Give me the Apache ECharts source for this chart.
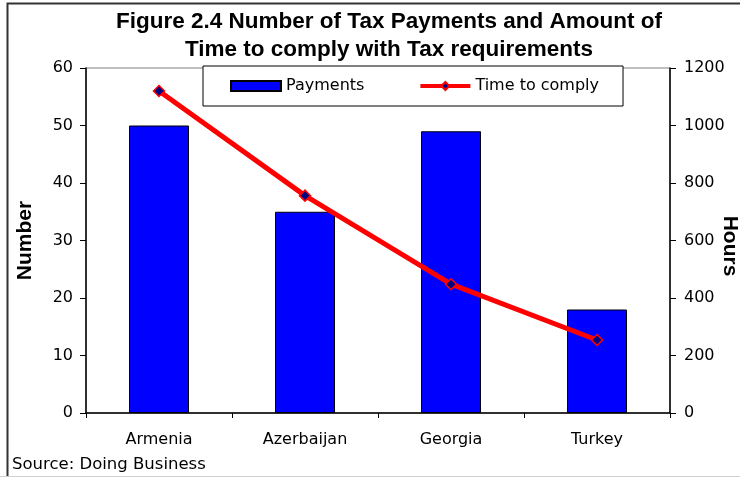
<!DOCTYPE html>
<html>
<head>
<meta charset="utf-8">
<script src="https://cdn.jsdelivr.net/npm/echarts@6/dist/echarts.min.js"></script>
<style>
  html, body { margin: 0; padding: 0; background: #fff; }
  #chart { width: 740px; height: 477px; }
</style>
</head>
<body>
<div id="chart"></div>
<script>
// Number of tax payments (left axis) and hours to comply (right axis)
const countries = ['Armenia', 'Azerbaijan', 'Georgia', 'Turkey'];
const payments = [50, 35, 49, 18];
const timeToComply = [1120, 756, 448, 254];

const leftTicks = { min: 0, max: 60, interval: 10 };
const rightTicks = { min: 0, max: 1200, interval: 200 };

const labelFont = 'DejaVu Sans';
const chart = echarts.init(document.getElementById('chart'), null, { renderer: 'canvas' });

chart.setOption({
  backgroundColor: '#fff',
  animation: false,
  title: {
    text: 'Figure 2.4 Number of Tax Payments and Amount of\nTime to comply with Tax requirements',
    left: 384,
    top: 3,
    textAlign: 'center',
    textStyle: {
      fontFamily: 'Liberation Sans',
      fontWeight: 'bold',
      fontSize: 22.5,
      lineHeight: 28,
      color: '#000'
    }
  },
  legend: {
    left: 203,
    top: 66,
    orient: 'horizontal',
    backgroundColor: '#fff',
    borderColor: '#000',
    borderWidth: 1,
    padding: [12, 24, 12, 27],
    itemGap: 54,
    itemWidth: 50,
    itemHeight: 10,
    z: 10,
    textStyle: { fontFamily: labelFont, fontSize: 16, color: '#000' },
    data: [
      { name: 'Payments', icon: 'rect' },
      { name: 'Time to comply', lineStyle: { width: 4 } }
    ]
  },
  grid: {
    left: 86,
    right: 70,
    top: 68,
    bottom: 64,
    outerBoundsMode: 'none',
    containLabel: false,
    show: true,
    borderColor: '#808080',
    borderWidth: 1,
    backgroundColor: '#fff'
  },
  xAxis: {
    type: 'category',
    data: countries,
    boundaryGap: true,
    axisLine: { lineStyle: { color: '#000', width: 1.5 } },
    axisTick: { show: true, length: 5, lineStyle: { color: '#000' } },
    axisLabel: { margin: 19, fontFamily: labelFont, fontSize: 16, color: '#000' }
  },
  yAxis: [
    {
      type: 'value',
      min: leftTicks.min, max: leftTicks.max, interval: leftTicks.interval,
      name: 'Number',
      nameLocation: 'middle',
      nameGap: 50,
      nameRotate: 90,
      nameTextStyle: { fontFamily: 'Liberation Sans', fontWeight: 'bold', fontSize: 21, color: '#000' },
      axisLine: { show: true, lineStyle: { color: '#000', width: 1.5 } },
      axisTick: { show: true, length: 6, lineStyle: { color: '#000' } },
      splitLine: { show: false },
      axisLabel: { margin: 13, fontFamily: labelFont, fontSize: 16, color: '#000' }
    },
    {
      type: 'value',
      position: 'right',
      min: rightTicks.min, max: rightTicks.max, interval: rightTicks.interval,
      axisLine: { show: true, lineStyle: { color: '#000', width: 1.5 } },
      axisTick: { show: true, length: 6, lineStyle: { color: '#000' } },
      splitLine: { show: false },
      axisLabel: { margin: 14, fontFamily: labelFont, fontSize: 16, color: '#000', formatter: v => String(v) }
    }
  ],
  series: [
    {
      name: 'Payments',
      type: 'bar',
      yAxisIndex: 0,
      data: payments,
      barWidth: 60,
      itemStyle: { color: '#0000ff', borderColor: '#000', borderWidth: 1 }
    },
    {
      name: 'Time to comply',
      type: 'line',
      yAxisIndex: 1,
      data: timeToComply,
      symbol: 'diamond',
      symbolSize: 11,
      lineStyle: { color: '#ff0000', width: 5 },
      itemStyle: { color: '#000080', borderColor: '#ff0000', borderWidth: 1.5 },
      z: 5
    }
  ],
  graphic: [
    {
      type: 'rect',
      shape: { x: 7.5, y: 3.5, width: 750, height: 490 },
      style: { fill: 'none', stroke: '#333', lineWidth: 2 },
      silent: true,
      z: -1
    },
    {
      type: 'line',
      shape: { x1: 0, y1: 476.5, x2: 740, y2: 476.5 },
      style: { stroke: '#d0d0d0', lineWidth: 1 },
      silent: true
    },
    {
      // right axis title, reading top to bottom
      type: 'text',
      x: 730,
      y: 246,
      rotation: -Math.PI / 2,
      style: {
        text: 'Hours',
        fontFamily: 'Liberation Sans',
        fontWeight: 'bold',
        fontSize: 21,
        fill: '#000',
        align: 'center',
        verticalAlign: 'middle'
      }
    },
    {
      type: 'text',
      left: 12,
      top: 456,
      style: { text: 'Source: Doing Business', fontFamily: labelFont, fontSize: 16.5, fill: '#000' }
    }
  ]
});
</script>
</body>
</html>
